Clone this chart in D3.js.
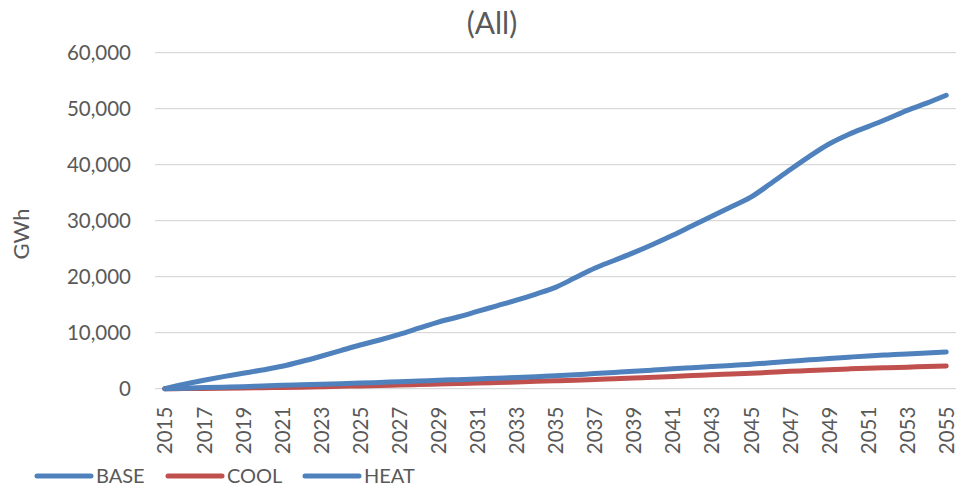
<!DOCTYPE html>
<html>
<head>
<meta charset="utf-8">
<script src="https://cdn.jsdelivr.net/npm/d3@7"></script>
<style>
  html, body { margin: 0; padding: 0; background: #fff; }
  svg text { font-family: Lato, "Open Sans", "Liberation Sans", sans-serif; fill: #595959; }
</style>
</head>
<body>
<svg id="chart" width="958" height="488"></svg>
<script>
// Annual electricity demand by end use, GWh
const years = d3.range(2015, 2056);
const baseValues = [
  0, 800, 1500, 2150, 2750, 3350, 4000, 4850, 5800, 6800,
  7800, 8700, 9700, 10800, 11900, 12800, 13800, 14800, 15800, 16900,
  18100, 19800, 21500, 22900, 24300, 25800, 27400, 29100, 30800, 32500,
  34200, 36600, 39100, 41500, 43700, 45400, 46800, 48200, 49700, 51000,
  52400
];
const coolValues = [
  0, 20, 50, 80, 120, 170, 220, 280, 350, 420,
  500, 570, 650, 730, 820, 910, 1000, 1100, 1200, 1310,
  1420, 1530, 1650, 1770, 1900, 2050, 2200, 2350, 2500, 2620,
  2750, 2920, 3100, 3250, 3400, 3530, 3650, 3750, 3850, 3950,
  4050
];
const heatValues = [
  0, 100, 200, 280, 350, 480, 600, 700, 800, 900,
  1000, 1120, 1250, 1370, 1500, 1620, 1750, 1870, 2000, 2150,
  2300, 2500, 2700, 2900, 3100, 3320, 3550, 3750, 3950, 4150,
  4350, 4620, 4900, 5150, 5400, 5630, 5850, 6030, 6200, 6380,
  6550
];
const yTicks = [0, 10000, 20000, 30000, 40000, 50000, 60000];
const xTickYears = years.filter(y => (y - 2015) % 2 === 0);

const series = [
  { name: "BASE", values: baseValues, color: "#4F81BD" },
  { name: "COOL", values: coolValues, color: "#C0504D" },
  { name: "HEAT", values: heatValues, color: "#4F81BD" }
];

const svg = d3.select("#chart");
const plot = { left: 155, right: 956, top: 52.7, bottom: 388.7 };

const x = d3.scalePoint().domain(years).range([plot.left, plot.right]).padding(0.5);
const y = d3.scaleLinear().domain([0, 60000]).range([plot.bottom, plot.top]);

// Title
svg.append("text")
  .attr("x", 492).attr("y", 34)
  .attr("text-anchor", "middle")
  .style("font-size", "30px")
  .text("(All)");

// Horizontal gridlines
svg.append("g")
  .selectAll("line")
  .data(yTicks)
  .join("line")
  .attr("x1", plot.left).attr("x2", plot.right)
  .attr("y1", d => y(d)).attr("y2", d => y(d))
  .attr("stroke", "#d9d9d9").attr("stroke-width", 1.3);

// Y axis labels
const yAxis = d3.axisLeft(y).tickValues(yTicks).tickFormat(d3.format(",")).tickSize(0).tickPadding(0);
svg.append("g")
  .attr("transform", `translate(131,0)`)
  .call(yAxis)
  .call(g => g.select(".domain").remove())
  .selectAll("text")
  .style("font-size", "20.5px")
  .attr("fill", "#595959")
  .attr("font-family", null)
  .attr("dy", "0.35em");

// Y axis title
svg.append("text")
  .attr("transform", "translate(29,234) rotate(-90)")
  .attr("text-anchor", "middle")
  .style("font-size", "22px")
  .text("GWh");

// X axis labels, rotated
const xAxis = d3.axisBottom(x).tickValues(xTickYears).tickSize(0).tickPadding(0);
svg.append("g")
  .attr("transform", `translate(0,${plot.bottom})`)
  .call(xAxis)
  .call(g => g.select(".domain").remove())
  .selectAll("text")
  .style("font-size", "20.5px")
  .attr("fill", "#595959")
  .attr("font-family", null)
  .attr("transform", "rotate(-90)")
  .attr("text-anchor", "end")
  .attr("x", -18)
  .attr("y", 0)
  .attr("dy", "0.35em");

// Lines
const line = d3.line()
  .x((d, i) => x(years[i]))
  .y(d => y(d))
  .curve(d3.curveMonotoneX);

svg.append("g")
  .selectAll("path")
  .data(series)
  .join("path")
  .attr("d", d => line(d.values))
  .attr("fill", "none")
  .attr("stroke", d => d.color)
  .attr("stroke-width", 5)
  .attr("stroke-linecap", "round")
  .attr("stroke-linejoin", "round");

// Legend
const legendItems = [
  { s: series[0], x0: 37 },
  { s: series[1], x0: 168 },
  { s: series[2], x0: 305 }
];
const lg = svg.append("g").selectAll("g").data(legendItems).join("g")
  .attr("transform", d => `translate(${d.x0},476)`);
lg.append("line")
  .attr("x1", 0).attr("x2", 54).attr("y1", 0).attr("y2", 0)
  .attr("stroke", d => d.s.color).attr("stroke-width", 5)
  .attr("stroke-linecap", "round");
lg.append("text")
  .attr("x", 59).attr("y", 0).attr("dy", "0.35em")
  .style("font-size", "20px")
  .text(d => d.s.name);
</script>
</body>
</html>
